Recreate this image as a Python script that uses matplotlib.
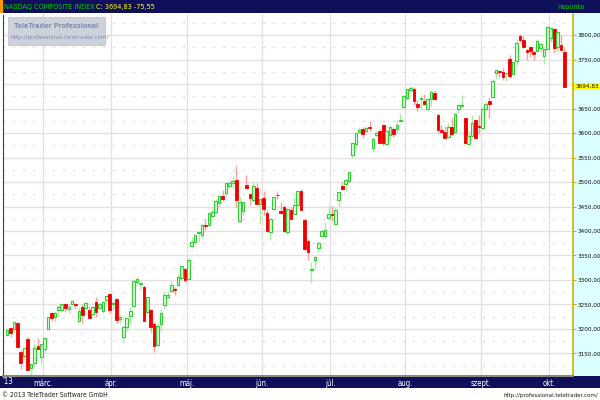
import numpy as np
import pandas as pd
import matplotlib
matplotlib.use('Agg')
import matplotlib.pyplot as plt
from matplotlib.patches import Rectangle
from matplotlib import font_manager

# daily OHLC, NASDAQ Composite, 14 Feb - 8 Oct 2013
opens = [3187, 3201, 3199, 3213, 3154, 3145, 3180, 3121, 3130, 3165,
         3143, 3159, 3200, 3233, 3225, 3238, 3239, 3250, 3240, 3252,
         3250, 3216, 3245, 3243, 3238, 3230, 3255, 3243, 3236, 3260,
         3272, 3252, 3261, 3220, 3183, 3205, 3227, 3246, 3296, 3292,
         3286, 3235, 3239, 3210, 3168, 3210, 3248, 3266, 3278, 3282,
         3290, 3305, 3322, 3302, 3370, 3378, 3396, 3392, 3413, 3413,
         3431, 3438, 3458, 3471, 3478, 3491, 3498, 3505, 3420, 3440,
         3494, 3475, 3463, 3487, 3456, 3467, 3436, 3398, 3444, 3474,
         3440, 3448, 3397, 3442, 3435, 3454, 3482, 3422, 3380, 3320,
         3341, 3366, 3390, 3390, 3427, 3434, 3415, 3463, 3491, 3495,
         3503, 3556, 3578, 3603, 3608, 3604, 3612, 3570, 3596, 3604,
         3616, 3577, 3596, 3608, 3609, 3625, 3653, 3671, 3688, 3690,
         3660, 3669, 3666, 3650, 3670, 3681, 3637, 3606, 3602, 3591,
         3613, 3602, 3650, 3656, 3630, 3578, 3594, 3626, 3615, 3610,
         3650, 3666, 3674, 3722, 3727, 3724, 3722, 3752, 3721, 3747,
         3799, 3790, 3769, 3775, 3765, 3767, 3773, 3757, 3771, 3794,
         3812, 3775, 3780, 3766]
highs = [3203, 3205, 3214, 3215, 3157, 3162, 3184, 3131, 3171, 3182,
         3170, 3182, 3227, 3234, 3236, 3248, 3252, 3253, 3250, 3260,
         3253, 3245, 3250, 3258, 3246, 3246, 3265, 3253, 3258, 3270,
         3273, 3258, 3263, 3228, 3206, 3222, 3244, 3299, 3307, 3296,
         3290, 3265, 3241, 3214, 3213, 3240, 3276, 3278, 3298, 3286,
         3313, 3329, 3325, 3345, 3387, 3393, 3398, 3414, 3424, 3437,
         3445, 3465, 3473, 3483, 3498, 3505, 3511, 3532, 3470, 3460,
         3514, 3478, 3501, 3497, 3466, 3482, 3443, 3425, 3469, 3481,
         3460, 3453, 3447, 3448, 3469, 3484, 3485, 3424, 3383, 3337,
         3349, 3380, 3404, 3418, 3453, 3452, 3449, 3480, 3501, 3507,
         3523, 3579, 3600, 3613, 3612, 3614, 3625, 3591, 3605, 3609,
         3618, 3607, 3614, 3612, 3627, 3640, 3677, 3689, 3696, 3694,
         3667, 3677, 3680, 3672, 3687, 3687, 3640, 3617, 3614, 3621,
         3630, 3638, 3658, 3678, 3631, 3605, 3636, 3627, 3636, 3651,
         3663, 3674, 3711, 3731, 3728, 3732, 3723, 3760, 3746, 3791,
         3803, 3798, 3771, 3778, 3768, 3791, 3782, 3772, 3818, 3815,
         3815, 3808, 3800, 3774]
lows = [3185, 3184, 3193, 3163, 3118, 3136, 3116, 3105, 3125, 3158,
        3129, 3154, 3199, 3217, 3215, 3227, 3236, 3234, 3233, 3248,
        3240, 3214, 3213, 3240, 3222, 3228, 3225, 3240, 3233, 3254,
        3233, 3238, 3213, 3212, 3171, 3195, 3210, 3244, 3291, 3280,
        3216, 3230, 3194, 3154, 3165, 3195, 3240, 3262, 3275, 3270,
        3288, 3300, 3296, 3301, 3365, 3376, 3380, 3385, 3402, 3410,
        3428, 3436, 3450, 3462, 3472, 3488, 3486, 3448, 3418, 3433,
        3486, 3453, 3460, 3456, 3415, 3432, 3398, 3381, 3443, 3465,
        3434, 3398, 3393, 3422, 3434, 3453, 3443, 3359, 3340, 3294,
        3325, 3358, 3389, 3387, 3424, 3420, 3413, 3449, 3484, 3482,
        3497, 3550, 3570, 3600, 3590, 3600, 3605, 3562, 3591, 3578,
        3576, 3573, 3583, 3591, 3600, 3625, 3652, 3668, 3685, 3658,
        3646, 3650, 3657, 3648, 3655, 3668, 3600, 3602, 3589, 3589,
        3595, 3598, 3640, 3655, 3577, 3578, 3593, 3587, 3598, 3607,
        3649, 3630, 3673, 3711, 3714, 3708, 3707, 3712, 3720, 3738,
        3785, 3774, 3749, 3756, 3749, 3767, 3766, 3740, 3771, 3785,
        3763, 3765, 3770, 3694]
closes = [3198, 3192, 3214, 3164, 3131, 3161, 3116, 3129, 3162, 3160,
          3169, 3182, 3224, 3222, 3232, 3244, 3252, 3242, 3245, 3258,
          3249, 3237, 3229, 3254, 3223, 3245, 3235, 3252, 3256, 3268,
          3239, 3254, 3219, 3225, 3204, 3222, 3237, 3298, 3301, 3294,
          3217, 3265, 3204, 3166, 3206, 3233, 3269, 3270, 3290, 3279,
          3307, 3329, 3299, 3340, 3378, 3392, 3396, 3413, 3410, 3437,
          3438, 3462, 3471, 3466, 3498, 3497, 3502, 3463, 3459, 3459,
          3488, 3467, 3491, 3456, 3466, 3445, 3401, 3425, 3469, 3473,
          3437, 3400, 3445, 3424, 3453, 3482, 3443, 3364, 3357, 3320,
          3347, 3376, 3401, 3403, 3434, 3433, 3443, 3479, 3485, 3504,
          3520, 3579, 3600, 3607, 3599, 3610, 3611, 3587, 3600, 3579,
          3579, 3605, 3613, 3599, 3617, 3626, 3675, 3689, 3692, 3666,
          3654, 3669, 3660, 3669, 3684, 3669, 3607, 3602, 3589, 3613,
          3599, 3638, 3658, 3657, 3579, 3593, 3621, 3590, 3612, 3649,
          3659, 3660, 3706, 3729, 3725, 3715, 3722, 3717, 3745, 3784,
          3789, 3775, 3765, 3768, 3761, 3787, 3781, 3771, 3817, 3815,
          3774, 3807, 3770, 3694.83]
holidays = ['2013-03-29', '2013-05-27', '2013-07-04', '2013-09-02']
month_labels = ['márc.', 'ápr.', 'máj.', 'jún.', 'júl.', 'aug.', 'szept.', 'okt.']
price_ticks = list(range(3150, 3801, 50))
last_close = 3694.83
last_change = -75.55

dates = pd.bdate_range('2013-02-14', '2013-10-08')
dates = dates[~dates.isin(pd.to_datetime(holidays))]
month_pos = [int(np.argmax(dates.month == m)) for m in range(3, 11)]

NAVY = '#10105a'
W, H = 600, 400

# look for a narrow face (the original uses a condensed UI font)
def find_narrow(bold=False):
    for key in ['LiberationSansNarrow', 'DejaVuSansCondensed']:
        for f in font_manager.fontManager.ttflist:
            fn = f.fname.split('/')[-1]
            if fn.startswith(key) and ('Italic' not in fn) and ('Oblique' not in fn) \
                    and (('Bold' in fn) == bold):
                return f.fname
    return None

reg_file = find_narrow(False)
bold_file = find_narrow(True)

def fp(size, bold=False):
    path = bold_file if bold else reg_file
    if path:
        return font_manager.FontProperties(fname=path, size=size)
    return font_manager.FontProperties(family='Liberation Sans', size=size * 0.82,
                                       weight='bold' if bold else 'normal')

fig = plt.figure(figsize=(6, 4), dpi=100)
fig.patch.set_facecolor('white')

def frac(x0, y0, x1, y1):
    # pixel box (top-left origin) -> figure fraction rect
    return [x0 / W, 1 - y1 / H, (x1 - x0) / W, (y1 - y0) / H]

def plain(a):
    a.set_xticks([]); a.set_yticks([])
    for s in a.spines.values():
        s.set_visible(False)

def fit_width(txt, target_px):
    # shrink a text until it is as wide as in the original
    fig.canvas.draw()
    w = txt.get_window_extent().width
    if w > target_px:
        txt.set_fontsize(txt.get_fontsize() * target_px / w)

# header band
hax = fig.add_axes(frac(0, 0, 600, 13))
hax.set_facecolor(NAVY)
plain(hax)
hax.add_patch(Rectangle((0, 0), 0.004, 1, color='#ff9900', transform=hax.transAxes))
t1 = hax.text(0.006, 0.45, 'NASDAQ COMPOSITE INDEX ', color='#00d000',
              fontproperties=fp(5.2), va='center', transform=hax.transAxes)
fig.canvas.draw()
bb = t1.get_window_extent()
head = f'C: {last_close:.2f} {last_change:.2f}'.replace('.', ',')
fig.text(bb.x1 / W, 1 - 6.5 / H, head, color='#ffff00', fontproperties=fp(5.2), va='center')
hax.text(0.975, 0.45, 'naponta', color='#00d000', fontproperties=fp(5.2),
         va='center', ha='right', transform=hax.transAxes)

# bottom date band
bax = fig.add_axes(frac(0, 376, 600, 388))
bax.set_facecolor(NAVY)
plain(bax)
bax.set_zorder(0)

# right price panel
rax = fig.add_axes(frac(573, 13, 600, 376))
rax.set_facecolor('#dcffff')
plain(rax)
rax.set_zorder(0)

# main chart
ax = fig.add_axes(frac(3, 14, 573, 376))
ax.set_zorder(2)
ax.set_facecolor('white')
ax.set_xlim(-1.2, 165.5)
ax.set_ylim(3104, 3843)

for v in price_ticks:
    ax.axhline(v, color='#e6e0e0', lw=1, zorder=0)
for v in np.arange(3125, 3843, 50):
    ax.axhline(v, color='#b8b8b8', lw=0.8, ls=(0, (1, 8)), zorder=0)
for p in month_pos:
    ax.axvline(p - 0.5, color='#e6e0e0', lw=1, zorder=0)

bw = 0.78
for i, (o, hi, lo, c) in enumerate(zip(opens, highs, lows, closes)):
    up = c >= o
    wick = '#a8eea8' if up else '#ff9c9c'
    ax.vlines(i, lo, hi, color=wick, lw=1, zorder=2)
    bottom = min(o, c)
    h = max(abs(c - o), 1.5)
    if up:
        ax.add_patch(Rectangle((i - bw / 2, bottom), bw, h, facecolor='#d8ffd8',
                               edgecolor='#33cc33', lw=0.8, zorder=3))
    else:
        ax.add_patch(Rectangle((i - bw / 2, bottom), bw, h, facecolor='#ee0000',
                               edgecolor='#ee0000', lw=0.6, zorder=3))

ax.set_xticks([p - 0.5 for p in month_pos])
ax.set_xticklabels(month_labels, color='white', fontproperties=fp(5.6))
ax.tick_params(axis='x', length=0, pad=2)
ax.yaxis.tick_right()
ax.set_yticks(price_ticks)
# the 3700 label sits under the last-price marker in the original
ax.set_yticklabels(['' if v == 3700 else f'{v},00' for v in price_ticks],
                   fontproperties=fp(4.6), color='#101010')
ax.tick_params(axis='y', length=2, width=0.8, pad=1.5, color='#c8b400')
ax.spines['top'].set_visible(False)
ax.spines['right'].set_color('#c8b400')
ax.spines['right'].set_linestyle((0, (1, 1)))
ax.spines['right'].set_linewidth(1.2)
ax.spines['left'].set_color('#404040')
ax.spines['left'].set_linestyle((0, (1, 1)))
ax.spines['bottom'].set_color('#8a8a80')
ax.spines['bottom'].set_linewidth(1.5)

# last value marker
ax.annotate(f'{last_close:.2f}'.replace('.', ','), xy=(1, last_close),
            xycoords=('axes fraction', 'data'), xytext=(1.6, 0), textcoords='offset points',
            fontproperties=fp(4.6), va='center', ha='left', color='#101010',
            bbox=dict(boxstyle='square,pad=0.12', facecolor='#ffff00', edgecolor='none'))

fig.text(2 / W, 1 - 382 / H, "'13", color='white', fontproperties=fp(5.6), va='center')

# watermark
wb = Rectangle((8 / W, 1 - 45 / H), 97 / W, 28 / H, transform=fig.transFigure,
               facecolor='#cdd1da', edgecolor='#a0a4b0', lw=0.6, ls=(0, (1, 1)), zorder=5)
fig.patches.append(wb)
title = fig.text(56 / W, 1 - 26 / H, 'TeleTrader Professional', color='#7c8fb4',
                 fontproperties=fp(7.6, bold=True), ha='center', va='center', zorder=6)
fit_width(title, 85)
fig.text(60 / W, 1 - 37 / H, 'http://professional.teletrader.com/', color='#7c8fb4',
         fontproperties=fp(4.6), ha='center', va='center', zorder=6)

# footer
fig.text(2 / W, 1 - 395 / H, '© 2013 TeleTrader Software GmbH',
         fontproperties=fp(4.9), color='#202020', va='center')
fig.text(598 / W, 1 - 395 / H, 'http://professional.teletrader.com/',
         fontproperties=fp(4.4), color='#202020', va='center', ha='right')

fig.savefig('out.png', dpi=100)
